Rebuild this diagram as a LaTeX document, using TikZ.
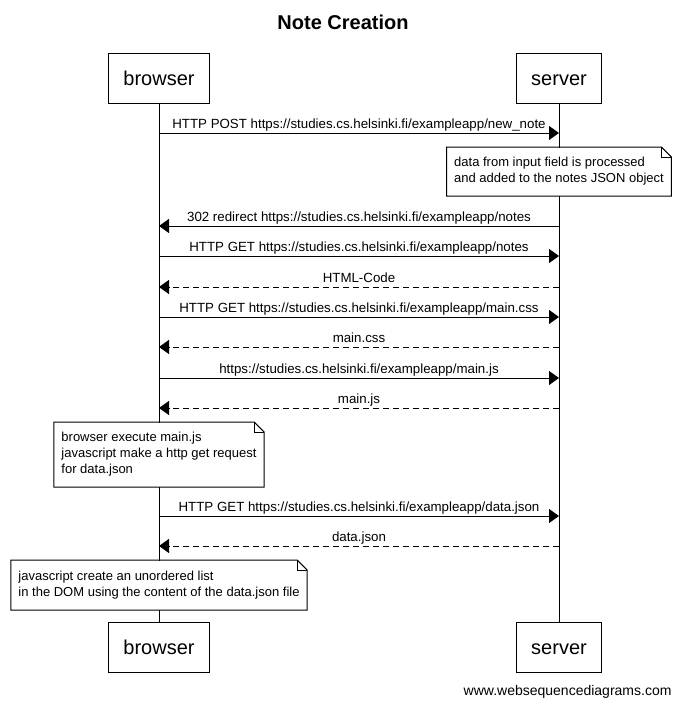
\documentclass[tikz,border=0pt]{standalone}
\usepackage{fontspec}
\setmainfont{Liberation Sans}
\usetikzlibrary{arrows.meta}
\begin{document}
\begin{tikzpicture}[x=1pt,y=-1pt,line width=1pt,
  actor/.style={draw, minimum height=50pt, inner xsep=15pt, inner ysep=0pt, text height=14.5pt, text depth=0pt, font=\fontsize{20}{24}\selectfont},
  msg/.style={-{Triangle[length=10pt,width=14pt]}},
  reply/.style={msg, dash pattern=on 6pt off 4pt},
  msglbl/.style={anchor=base, inner sep=0pt, yshift=5pt, font=\fontsize{13.3}{16}\selectfont},
  notebox/.style={anchor=north, fill=white, align=left, inner xsep=7pt, inner ysep=0pt, font=\fontsize{13}{16}\selectfont}
]
\useasboundingbox (0,0) rectangle (680,705);
\node[font=\bfseries\fontsize{20}{24}\selectfont, anchor=base, inner sep=0pt] (title) at (343,29) {Note Creation};

\node[actor] (bt) at (159,78) {browser};
\node[actor] (st) at (559,78) {server};
\node[actor] (bb) at (159,647) {browser};
\node[actor] (sb) at (559,647) {server};
\draw (bt.south) -- (bb.north);
\draw (st.south) -- (sb.north);

\node[font=\fontsize{14}{16}\selectfont, anchor=base east, inner sep=0pt] (footer) at (672,695) {www.websequencediagrams.com};

\coordinate (b1) at (159,133);  \coordinate (s1) at (559,133);
\coordinate (b2) at (159,226);  \coordinate (s2) at (559,226);
\coordinate (b3) at (159,256);  \coordinate (s3) at (559,256);
\coordinate (b4) at (159,287);  \coordinate (s4) at (559,287);
\coordinate (b5) at (159,317);  \coordinate (s5) at (559,317);
\coordinate (b6) at (159,347);  \coordinate (s6) at (559,347);
\coordinate (b7) at (159,378);  \coordinate (s7) at (559,378);
\coordinate (b8) at (159,408);  \coordinate (s8) at (559,408);
\coordinate (b9) at (159,516);  \coordinate (s9) at (559,516);
\coordinate (b10) at (159,546); \coordinate (s10) at (559,546);

\draw[msg] (b1) -- (s1) node[midway, msglbl] {HTTP POST https://studies.cs.helsinki.fi/exampleapp/new\_note};
\draw[msg] (s2) -- (b2) node[midway, msglbl] {302 redirect https://studies.cs.helsinki.fi/exampleapp/notes};
\draw[msg] (b3) -- (s3) node[midway, msglbl] {HTTP GET https://studies.cs.helsinki.fi/exampleapp/notes};
\draw[reply] (s4) -- (b4) node[midway, msglbl] {HTML-Code};
\draw[msg] (b5) -- (s5) node[midway, msglbl] {HTTP GET https://studies.cs.helsinki.fi/exampleapp/main.css};
\draw[reply] (s6) -- (b6) node[midway, msglbl] {main.css};
\draw[msg] (b7) -- (s7) node[midway, msglbl] {https://studies.cs.helsinki.fi/exampleapp/main.js};
\draw[reply] (s8) -- (b8) node[midway, msglbl] {main.js};
\draw[msg] (b9) -- (s9) node[midway, msglbl] {HTTP GET https://studies.cs.helsinki.fi/exampleapp/data.json};
\draw[reply] (s10) -- (b10) node[midway, msglbl] {data.json};

\node[notebox, minimum height=48pt] (n1) at (559,147) {data from input field is processed\\and added to the notes JSON object};
\node[notebox, minimum height=64pt] (n2) at (159,422) {browser execute main.js\\javascript make a http get request\\for data.json};
\node[notebox, minimum height=49pt] (n3) at (159,560) {javascript create an unordered list\\in the DOM using the content of the data.json file};

\foreach \n in {n1,n2,n3}{
  \draw (\n.north west) -- ([xshift=-10pt]\n.north east) -- ([yshift=-10pt]\n.north east) -- (\n.south east) -- (\n.south west) -- cycle;
  \draw ([xshift=-10pt]\n.north east) -- ([xshift=-10pt,yshift=-10pt]\n.north east) -- ([yshift=-10pt]\n.north east);
}
\end{tikzpicture}
\end{document}
